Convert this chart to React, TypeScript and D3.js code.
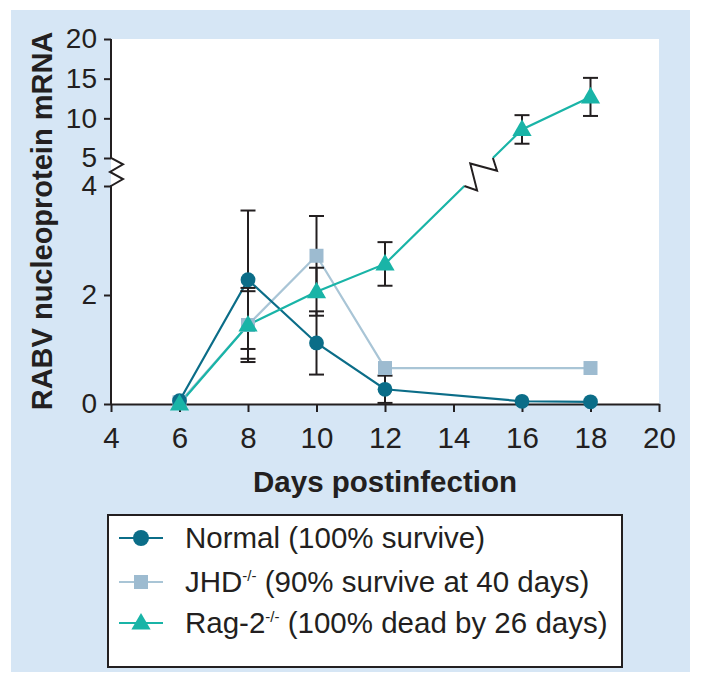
import React, { useEffect, useRef } from 'react';
import * as d3 from 'd3';

// values
const DAYS = [6, 8, 10, 12, 16, 18];
const NORMAL = [0.06, 2.28, 1.12, 0.27, 0.05, 0.04];
const NORMAL_ERR = [0, 1.27, 0.58, 0.25, 0, 0];
const JHD_DAYS = [6, 8, 10, 12, 18];
const JHD = [0.03, 1.45, 2.72, 0.66, 0.66];
const JHD_ERR = [0, 0.62, 0.73, 0, 0];
const RAG = [0, 1.45, 2.06, 2.57, 8.6, 12.7];
const RAG_ERR = [0, 0.68, 0.44, 0.4, 1.8, 2.4];
const X_TICKS = [4, 6, 8, 10, 12, 14, 16, 18, 20];
const Y_TICKS = [0, 2, 4, 5, 10, 15, 20];
const LEGEND_MAIN = ['Normal', 'JHD', 'Rag-2'];
const LEGEND_SUP = ['', '-/-', '-/-'];
const LEGEND_REST = [' (100% survive)', ' (90% survive at 40 days)', ' (100% dead by 26 days)'];

const W = 701;
const H = 683;
const FONT = '"Liberation Sans", Arial, Helvetica, sans-serif';
const INK = '#231f20';
const C_NORMAL = '#0b6d88';
const C_JHD = '#9dbbd0';
const C_JHD_LINE = '#a9c5d6';
const C_RAG = '#19b4a7';

type Pt = { d: number; v: number; e: number };

const App: React.FC = () => {
  const svgRef = useRef<SVGSVGElement>(null);

  useEffect(() => {
    if (!svgRef.current) return;
    const svg = d3.select(svgRef.current);
    svg.selectAll('*').remove();

    const x = d3.scaleLinear().domain([4, 20]).range([111, 659]);
    // broken axis: 0-4 linear, 5-20 compressed
    const y = d3.scaleLinear().domain([0, 4, 5, 20]).range([404, 186, 158, 39]);

    // panel
    svg.append('rect').attr('x', 11).attr('y', 10).attr('width', 679).attr('height', 662).attr('fill', '#d6e6f5');
    svg.append('rect')
      .attr('x', x(4)).attr('y', y(20))
      .attr('width', x(20) - x(4)).attr('height', y(0) - y(20))
      .attr('fill', '#fff');

    // x axis
    const xAxis = svg.append('g')
      .attr('transform', `translate(0,${y(0)})`)
      .call(d3.axisBottom(x).tickValues(X_TICKS).tickSize(8).tickPadding(15).tickSizeOuter(0));
    xAxis.select('.domain').attr('stroke', INK).attr('stroke-width', 2);
    xAxis.selectAll('.tick line').attr('stroke', INK).attr('stroke-width', 2);
    xAxis.selectAll('.tick text').attr('fill', INK).style('font-size', '29.5px').style('font-family', FONT);

    // y axis (ticks only, domain drawn by hand with break)
    const yAxis = svg.append('g')
      .attr('transform', `translate(${x(4)},0)`)
      .call(d3.axisLeft(y).tickValues(Y_TICKS).tickSize(7).tickPadding(7).tickSizeOuter(0));
    yAxis.select('.domain').remove();
    yAxis.selectAll('.tick line').attr('stroke', INK).attr('stroke-width', 2);
    yAxis.selectAll('.tick text').attr('fill', INK).style('font-size', '28px').style('font-family', FONT);

    const ax = x(4);
    const y5 = y(5);
    const y4 = y(4);
    const st = (y4 - y5) / 4;
    const axisPath = d3.path();
    axisPath.moveTo(ax, y(20));
    axisPath.lineTo(ax, y5);
    axisPath.lineTo(ax + 12, y5 + st * 0.9);
    axisPath.lineTo(ax - 1, y5 + st * 2);
    axisPath.lineTo(ax + 12, y5 + st * 3);
    axisPath.lineTo(ax, y4);
    axisPath.lineTo(ax, y(0));
    svg.append('path').attr('d', axisPath.toString()).attr('fill', 'none')
      .attr('stroke', INK).attr('stroke-width', 2).attr('stroke-linejoin', 'miter');

    // axis titles
    svg.append('text')
      .attr('transform', `translate(52,221) rotate(-90)`)
      .attr('text-anchor', 'middle')
      .style('font-family', FONT).style('font-weight', 'bold').style('font-size', '29px')
      .attr('fill', INK)
      .text('RABV nucleoprotein mRNA');
    svg.append('text')
      .attr('x', (x(4) + x(20)) / 2).attr('y', 492)
      .attr('text-anchor', 'middle')
      .style('font-family', FONT).style('font-weight', 'bold').style('font-size', '29.5px')
      .attr('fill', INK)
      .text('Days postinfection');

    const normal: Pt[] = DAYS.map((d, i) => ({ d, v: NORMAL[i], e: NORMAL_ERR[i] }));
    const jhd: Pt[] = JHD_DAYS.map((d, i) => ({ d, v: JHD[i], e: JHD_ERR[i] }));
    const rag: Pt[] = DAYS.map((d, i) => ({ d, v: RAG[i], e: RAG_ERR[i] }));

    const line = d3.line<Pt>().x(p => x(p.d)).y(p => y(p.v));

    // lines
    svg.append('path').attr('d', line(jhd)).attr('fill', 'none').attr('stroke', C_JHD_LINE).attr('stroke-width', 2.2);
    svg.append('path').attr('d', line(normal)).attr('fill', 'none').attr('stroke', C_NORMAL).attr('stroke-width', 2.2);

    // rag line, broken where it crosses the axis gap
    const breakIdx = rag.findIndex((p, i) => i > 0 && rag[i - 1].v <= 4 && p.v >= 5);
    const before = rag.slice(0, breakIdx);
    const after = rag.slice(breakIdx);
    const p1 = [x(before[before.length - 1].d), y(before[before.length - 1].v)];
    const p2 = [x(after[0].d), y(after[0].v)];
    const at = (yy: number) => {
      const t = (yy - p1[1]) / (p2[1] - p1[1]);
      return [p1[0] + t * (p2[0] - p1[0]), yy];
    };
    const pa = at(y4);
    const pb = at(y5);
    const ragLower = line(before) + `L${pa[0]},${pa[1]}`;
    const ragUpper = `M${pb[0]},${pb[1]}` + 'L' + (line(after) || '').slice(1);
    svg.append('path').attr('d', ragLower).attr('fill', 'none').attr('stroke', C_RAG).attr('stroke-width', 2.2);
    svg.append('path').attr('d', ragUpper).attr('fill', 'none').attr('stroke', C_RAG).attr('stroke-width', 2.2);

    // zigzag on the line break
    const dx = pb[0] - pa[0];
    const dy = pb[1] - pa[1];
    const len = Math.hypot(dx, dy);
    const ux = dx / len, uy = dy / len;
    const nx = -uy, ny = ux;
    const amp = 12;
    const zz: [number, number][] = [
      [0, 0], [0.15, amp], [0.5, -amp], [0.85, amp], [1, 0]
    ].map(([t, o]) => [pa[0] + ux * len * t + nx * o, pa[1] + uy * len * t + ny * o]);
    svg.append('path').attr('d', d3.line()(zz)).attr('fill', 'none').attr('stroke', INK).attr('stroke-width', 2).attr('stroke-linejoin', 'miter');

    // error bars
    const cap = 7.5;
    const drawErr = (pts: Pt[]) => {
      pts.filter(p => p.e > 0).forEach(p => {
        const cx = x(p.d);
        const top = y(p.v + p.e);
        const bot = y(Math.max(0, p.v - p.e));
        const g = svg.append('g').attr('stroke', INK).attr('stroke-width', 2);
        g.append('line').attr('x1', cx).attr('x2', cx).attr('y1', top).attr('y2', bot);
        g.append('line').attr('x1', cx - cap).attr('x2', cx + cap).attr('y1', top).attr('y2', top);
        g.append('line').attr('x1', cx - cap).attr('x2', cx + cap).attr('y1', bot).attr('y2', bot);
      });
    };
    drawErr(jhd);
    drawErr(normal);
    drawErr(rag);

    // markers
    const sq = d3.symbol().type(d3.symbolSquare).size(196);
    const tri = d3.symbol().type(d3.symbolTriangle).size(160);
    svg.selectAll('.m-jhd').data(jhd).enter().append('path')
      .attr('d', sq()).attr('transform', p => `translate(${x(p.d)},${y(p.v)})`).attr('fill', C_JHD);
    svg.selectAll('.m-normal').data(normal).enter().append('circle')
      .attr('cx', p => x(p.d)).attr('cy', p => y(p.v)).attr('r', 7.4).attr('fill', C_NORMAL);
    svg.selectAll('.m-rag').data(rag).enter().append('path')
      .attr('d', tri()).attr('transform', p => `translate(${x(p.d)},${y(p.v) + 1})`).attr('fill', C_RAG);

    // legend
    const lg = svg.append('g');
    lg.append('rect').attr('x', 108).attr('y', 515).attr('width', 514).attr('height', 152)
      .attr('fill', '#fff').attr('stroke', INK).attr('stroke-width', 2);
    const rowY = [538, 582, 623];
    const rowColor = [C_NORMAL, C_JHD_LINE, C_RAG];
    LEGEND_MAIN.forEach((name, i) => {
      const yy = rowY[i];
      lg.append('line').attr('x1', 119).attr('x2', 163).attr('y1', yy).attr('y2', yy)
        .attr('stroke', rowColor[i]).attr('stroke-width', 2);
      if (i === 0) lg.append('circle').attr('cx', 141).attr('cy', yy).attr('r', 8).attr('fill', C_NORMAL);
      if (i === 1) lg.append('path').attr('d', sq()).attr('transform', `translate(141,${yy})`).attr('fill', C_JHD);
      if (i === 2) lg.append('path').attr('d', tri()).attr('transform', `translate(141,${yy + 1})`).attr('fill', C_RAG);
      const t = lg.append('text').attr('x', 185).attr('y', yy + 10)
        .style('font-family', FONT).style('font-size', '29.5px').attr('fill', INK);
      t.append('tspan').text(name);
      if (LEGEND_SUP[i]) {
        t.append('tspan').attr('dy', -11).style('font-size', '15px').text(LEGEND_SUP[i]);
        t.append('tspan').attr('dy', 11).text(LEGEND_REST[i]);
      } else {
        t.append('tspan').text(LEGEND_REST[i]);
      }
    });
  }, []);

  return (
    <div style={{ position: 'absolute', left: 0, top: 0, width: W, height: H, background: '#fff' }}>
      <svg ref={svgRef} width={W} height={H} style={{ display: 'block' }} />
    </div>
  );
};

export default App;
